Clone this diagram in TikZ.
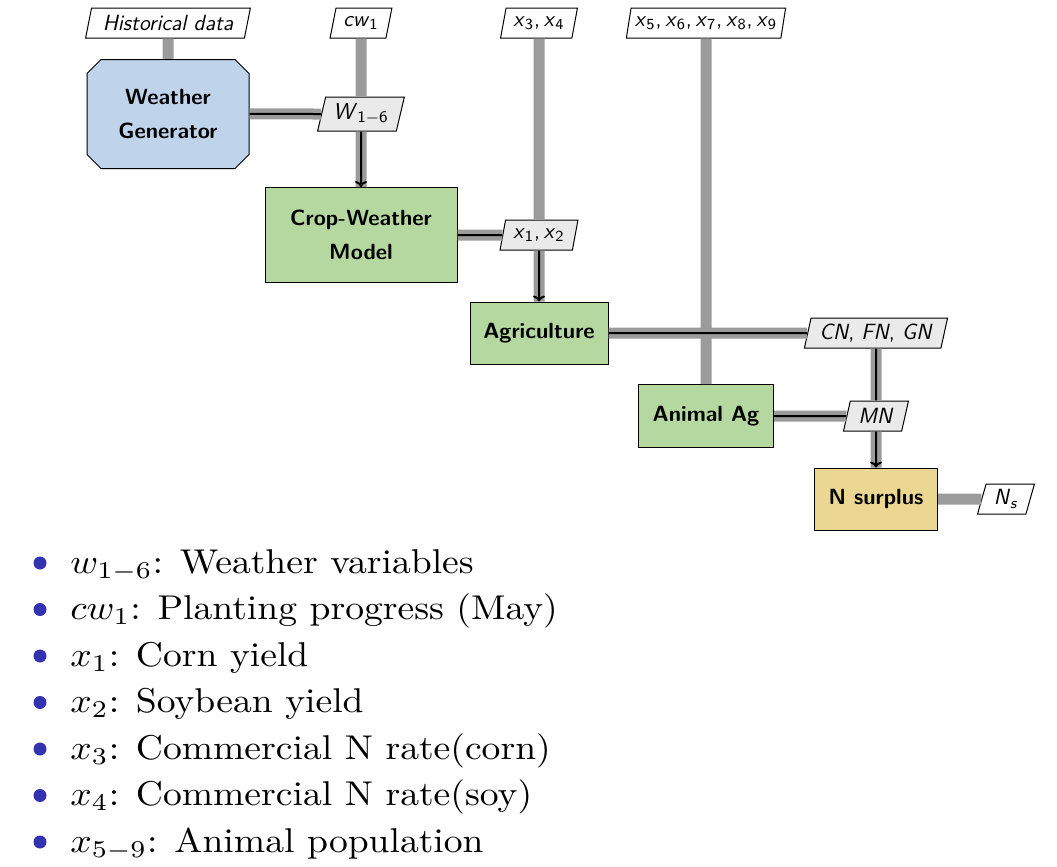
\documentclass[tikz,border=0pt]{standalone}
\usepackage{xcolor}
\usepackage{graphicx}
\usepackage{tikz}
\usetikzlibrary{shapes.geometric,shapes.misc,arrows.meta}

\definecolor{wgblue}{RGB}{191,212,234}
\definecolor{fungreen}{RGB}{180,216,160}
\definecolor{sumyellow}{RGB}{235,215,145}
\definecolor{labelgray}{RGB}{234,234,234}
\definecolor{pipegray}{RGB}{155,155,155}
\definecolor{itemblue}{RGB}{51,51,178}

\newcommand{\vsub}[1]{\textsubscript{\upshape #1}}

\tikzset{
  block/.style={draw, line width=0.5pt, align=center,
    font=\sffamily\bfseries\fontsize{11}{16.7}\selectfont},
  datalabel/.style={draw, line width=0.5pt, trapezium, trapezium left angle=75,
    trapezium right angle=105, trapezium stretches=true, minimum height=15pt,
    inner sep=1pt, font=\sffamily\fontsize{11}{13}\selectfont},
  inputlabel/.style={datalabel, fill=white},
  couplabel/.style={datalabel, fill=labelgray},
  pipe/.style={line width=5.5pt, draw=pipegray},
  datapipe/.style={line width=1pt, draw=black,
    preaction={draw=pipegray, line width=5.5pt, arrows=-}},
  flowarrow/.style={-{To[length=3pt,width=6pt]}},
  bulletdot/.style={circle, fill=itemblue, inner sep=0pt, minimum size=6.5pt},
  itemtext/.style={inner sep=0pt, anchor=base west, font=\fontsize{10}{12}\selectfont},
}

\begin{document}
\begin{tikzpicture}[x=0.5pt,y=-0.5pt]
   \useasboundingbox (0,0) rectangle (1057,867);

   % inputs along the top
   \node[inputlabel, minimum width=82.5pt, font=\sffamily\itshape\fontsize{11}{13}\selectfont] (hist) at (168,23) {Historical data};
   \node[inputlabel, minimum width=31pt] (cw) at (361,23) {\textit{cw}\vsub{1}};
   \node[inputlabel, minimum width=38.5pt] (xin34) at (539,23) {\textit{x}\vsub{3},\,\textit{x}\vsub{4}};
   \node[inputlabel, minimum width=80pt] (xin59) at (706,23) {\textit{x}\vsub{5},\,\textit{x}\vsub{6},\,\textit{x}\vsub{7},\,\textit{x}\vsub{8},\,\textit{x}\vsub{9}};

   % models
   \node[block, fill=wgblue, chamfered rectangle, chamfered rectangle xsep=3.5pt, chamfered rectangle ysep=3.5pt,
     minimum width=81pt, minimum height=54.5pt] (wg) at (168,114) {Weather\\Generator};
   \node[block, fill=fungreen, minimum width=96pt, minimum height=47.5pt] (crop) at (361,235) {Crop-Weather\\Model};
   \node[block, fill=fungreen, minimum width=69pt, minimum height=31pt] (agri) at (539,333) {Agriculture};
   \node[block, fill=fungreen, minimum width=67.5pt, minimum height=31.5pt] (animal) at (706,416) {Animal Ag};
   \node[block, fill=sumyellow, minimum width=61.5pt, minimum height=31pt] (nsur) at (876,499) {N surplus};

   % couplings
   \node[couplabel, minimum width=43.5pt, minimum height=17pt, font=\sffamily\fontsize{11.5}{13}\selectfont] (w16) at (361,114) {\textit{W}\vsub{1$-$6}};
   \node[couplabel, minimum width=39pt] (x12) at (539,235) {\textit{x}\vsub{1},\,\textit{x}\vsub{2}};
   \node[couplabel, minimum width=72pt] (cnfngn) at (876,333) {\textit{CN}, \textit{FN}, \textit{GN}};
   \node[couplabel, minimum width=32.5pt] (mn) at (876,416) {\textit{MN}};
   \node[inputlabel, minimum width=28.5pt] (ns) at (1006,499) {\textit{N}\textsubscript{\textit{s}}};

   % connectors
   \draw[pipe] (hist) -- (wg);
   \draw[pipe] (cw) -- (w16);
   \draw[pipe] (xin34) -- (x12);
   \draw[pipe] (xin59) -- (animal);
   \draw[datapipe] (wg) -- (w16);
   \draw[datapipe, flowarrow] (w16) -- (crop);
   \draw[datapipe] (crop) -- (x12);
   \draw[datapipe, flowarrow] (x12) -- (agri);
   \draw[datapipe] (agri) -- (cnfngn);
   \draw[datapipe] (cnfngn) -- (mn);
   \draw[datapipe] (animal) -- (mn);
   \draw[datapipe, flowarrow] (mn) -- (nsur);
   \draw[pipe] (nsur) -- (ns);

   % legend
   \foreach \txt [count=\i] in {{$w_{1-6}$: Weather variables}, {$cw_1$: Planting progress (May)},
       {$x_1$: Corn yield}, {$x_2$: Soybean yield}, {$x_3$: Commercial N rate(corn)},
       {$x_4$: Commercial N rate(soy)}, {$x_{5-9}$: Animal population}}{
     \node[bulletdot] (dot\i) at (40,{563+(\i-1)*46.5}) {};
     \node[itemtext] (item\i) at (70,{573+(\i-1)*46.5}) {\scalebox{1.88}[1.72]{\txt}};
   }
\end{tikzpicture}
\end{document}
